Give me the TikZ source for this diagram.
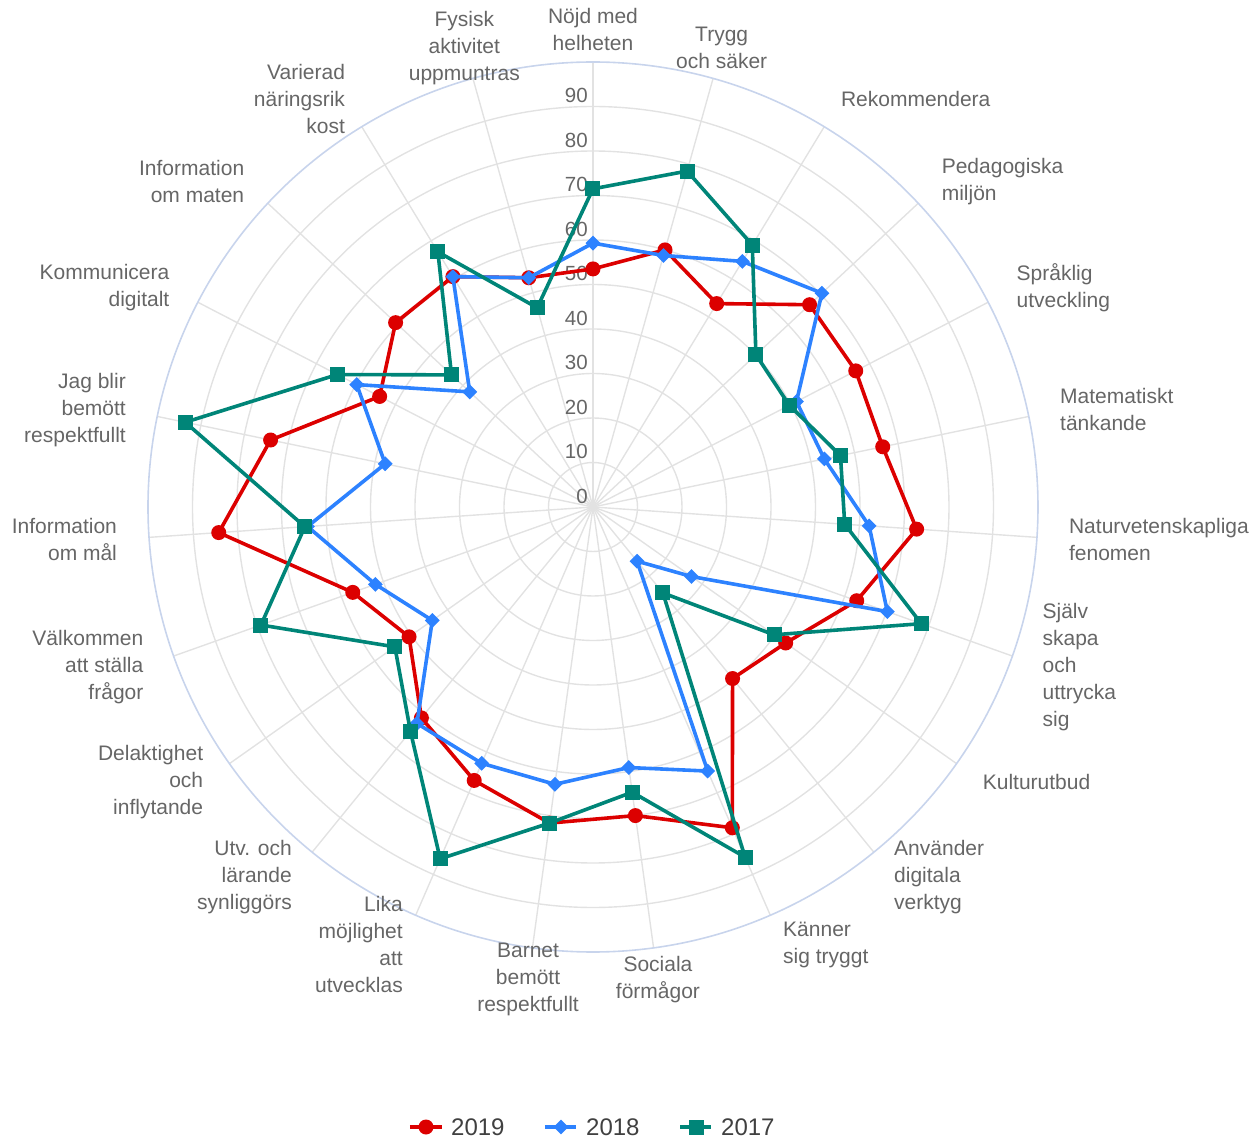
\documentclass[tikz,border=0pt]{standalone}
\usepackage{fontspec}
\setmainfont{Liberation Sans}
\usetikzlibrary{shapes.geometric}

\definecolor{c19}{RGB}{220,0,0}
\definecolor{c18}{RGB}{45,130,255}
\definecolor{c17}{RGB}{0,133,120}
\definecolor{gridgray}{RGB}{226,226,226}
\definecolor{rimblue}{RGB}{200,212,236}
\definecolor{txtgray}{RGB}{102,102,102}
\definecolor{leggray}{RGB}{64,64,64}

\newcommand{\rstep}{4.45}

\tikzset{
  gridline/.style={draw=gridgray, line width=1.4pt},
  rim/.style={draw=rimblue, line width=1.6pt},
  axlbl/.style={text=txtgray, font=\fontsize{21}{27}\selectfont, inner sep=0pt},
  lblC/.style={axlbl, anchor=center, align=center},
  lblW/.style={axlbl, anchor=west, align=left},
  lblE/.style={axlbl, anchor=east, align=right},
  ticklbl/.style={text=txtgray, font=\fontsize{20.5}{24}\selectfont, anchor=east, inner sep=0pt},
  leglbl/.style={text=leggray, font=\fontsize{24}{28}\selectfont, anchor=west, inner sep=0pt},
  line19/.style={draw=c19, line width=3.6pt, line join=round},
  line18/.style={draw=c18, line width=3.6pt, line join=round},
  line17/.style={draw=c17, line width=3.6pt, line join=round},
  dot19/.style={circle, fill=c19, minimum size=15pt, inner sep=0pt},
  dia18/.style={diamond, fill=c18, minimum size=15pt, inner sep=0pt},
  sq17/.style={rectangle, fill=c17, minimum size=15pt, inner sep=0pt}
}

\begin{document}
\begin{tikzpicture}[x=1pt, y=1pt]
  \useasboundingbox (-593,-633) rectangle (663,507);

  % grid
  \foreach \r in {1,...,9}
    \draw[gridline] (0,0) circle ({\r*44.5});
  \foreach \i in {0,...,22}
    \draw[gridline] (0,0) -- ({90-\i*360/23}:445);
  \draw[rim] (0,0) circle (445);

  % scale
  \foreach \v in {0,10,...,90}
    \node[ticklbl] (t\v) at (-5,{\v*\rstep+11}) {\v};

  % axis labels
  \foreach \t/\a [count=\i from 0] in {
      {Nöjd med\\helheten}/lblC, {Trygg\\och säker}/lblC, Rekommendera/lblW,
      {Pedagogiska\\miljön}/lblW, {Språklig\\utveckling}/lblW,
      {Matematiskt\\tänkande}/lblW, {Naturvetenskapliga\\fenomen}/lblW,
      {Själv\\skapa\\och\\uttrycka\\sig}/lblW, Kulturutbud/lblW,
      {Använder\\digitala\\verktyg}/lblW, {Känner\\sig tryggt}/lblW,
      {Sociala\\förmågor}/lblC, {Barnet\\bemött\\respektfullt}/lblC,
      {Lika\\möjlighet\\att\\utvecklas}/lblE, {Utv. och\\lärande\\synliggörs}/lblE,
      {Delaktighet\\och\\inflytande}/lblE, {Välkommen\\att ställa\\frågor}/lblE,
      {Information\\om mål}/lblE, {Jag blir\\bemött\\respektfullt}/lblE,
      {Kommunicera\\digitalt}/lblE, {Information\\om maten}/lblE,
      {Varierad\\näringsrik\\kost}/lblE, {Fysisk\\aktivitet\\uppmuntras}/lblC}
    \node[\a] (l\i) at ({90-\i*360/23}:477) {\t};

  % 2019
  \foreach \v [count=\i from 0] in {53.5,60,53.5,66.6,66.5,66.5,72.9,62.9,53,49.7,78.6,70,
      71.7,67,61.1,50.6,57.3,84.3,74,54,60.7,60.6,53.5}
    \coordinate (a19-\i) at ({90-\i*360/23}:{\v*\rstep});
  \draw[line19] (a19-0) \foreach \i in {1,...,22} {-- (a19-\i)} -- cycle;
  \foreach \i in {0,...,22}
    \node[dot19] (m19-\i) at (a19-\i) {};

  % 2018
  \foreach \v [count=\i from 0] in {59.3,58.7,64.6,70.4,51.5,53.1,62.2,70.2,27.1,15.7,64.7,59.1,
      62.9,62.8,62.7,44.2,51.9,64.3,47.7,59.8,37.9,60.6,53.5}
    \coordinate (a18-\i) at ({90-\i*360/23}:{\v*\rstep});
  \draw[line18] (a18-0) \foreach \i in {1,...,22} {-- (a18-\i)} -- cycle;
  \foreach \i in {0,...,22}
    \node[dia18] (m18-\i) at (a18-\i) {};

  % 2017
  \foreach \v [count=\i from 0] in {71.5,78.4,68.9,50.1,49.7,56.8,56.7,78.3,49.8,24.9,85.8,64.7,
      71.7,86.2,65,54.5,79.2,64.9,93.6,64.7,43.5,67.1,46.5}
    \coordinate (a17-\i) at ({90-\i*360/23}:{\v*\rstep});
  \draw[line17] (a17-0) \foreach \i in {1,...,22} {-- (a17-\i)} -- cycle;
  \foreach \i in {0,...,22}
    \node[sq17] (m17-\i) at (a17-\i) {};

  % legend
  \coordinate (g19a) at (-183,-620);
  \coordinate (g19b) at (-151,-620);
  \draw[line19] (g19a) -- (g19b);
  \node[dot19] (g19m) at (-167,-620) {};
  \node[leglbl] (g19t) at (-142,-620) {2019};

  \coordinate (g18a) at (-48,-620);
  \coordinate (g18b) at (-17,-620);
  \draw[line18] (g18a) -- (g18b);
  \node[dia18] (g18m) at (-32,-620) {};
  \node[leglbl] (g18t) at (-7,-620) {2018};

  \coordinate (g17a) at (87,-620);
  \coordinate (g17b) at (118,-620);
  \draw[line17] (g17a) -- (g17b);
  \node[sq17] (g17m) at (103,-620) {};
  \node[leglbl] (g17t) at (128,-620) {2017};
\end{tikzpicture}
\end{document}
